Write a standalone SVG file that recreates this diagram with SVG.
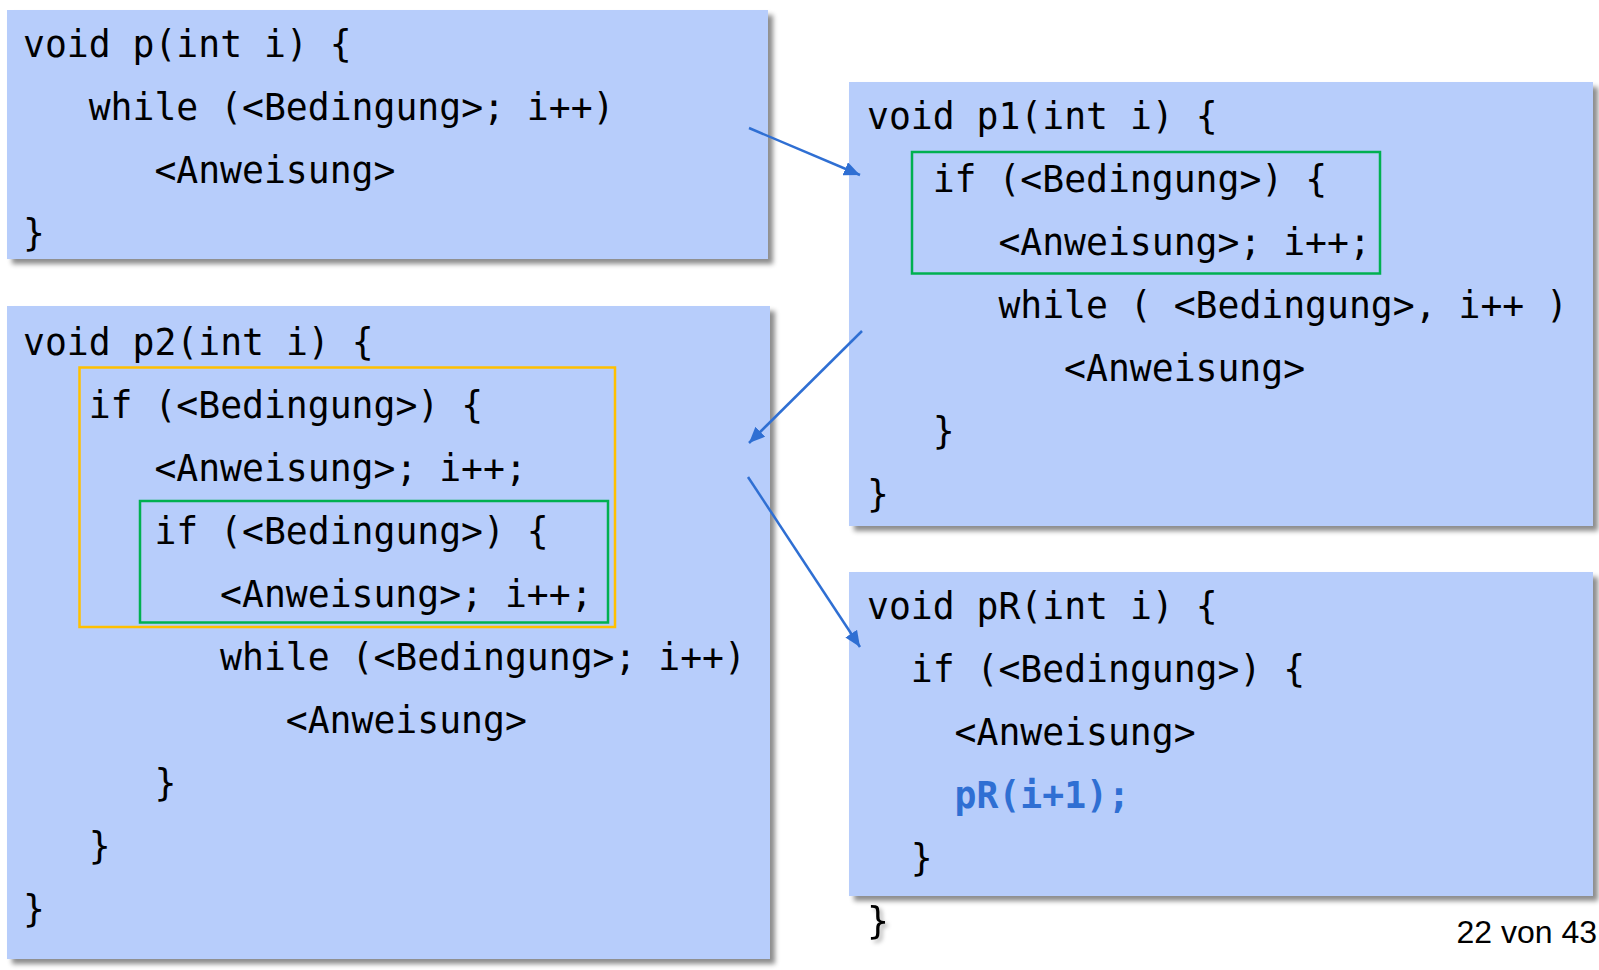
<svg xmlns="http://www.w3.org/2000/svg" width="1599" height="970" viewBox="0 0 1599 970">
  <style>
    .box { fill: #B7CDFB; filter: url(#shadow); }
    .code { font-family: "DejaVu Sans Mono", "Liberation Mono", monospace; font-size: 36.4px; fill: #000; }
    .call { font-weight: bold; fill: #2F6FD3; }
    .green { fill: none; stroke: #00B050; stroke-width: 2.5; }
    .orange { fill: none; stroke: #FFC000; stroke-width: 2.5; }
    .arrow { stroke: #2F6FD3; stroke-width: 2.5; fill: none; marker-end: url(#head); }
    .pageno { font-family: "Liberation Sans", Arial, sans-serif; font-size: 32px; fill: #000; }
  </style>
  <defs>
    <filter id="shadow" x="-5%" y="-5%" width="115%" height="115%">
      <feDropShadow dx="5" dy="5" stdDeviation="2.5" flood-color="#000" flood-opacity="0.45"/>
    </filter>
    <filter id="tshadow" x="-50%" y="-50%" width="200%" height="200%">
      <feDropShadow dx="3" dy="3" stdDeviation="2" flood-color="#000" flood-opacity="0.3"/>
    </filter>
    <marker id="head" markerUnits="userSpaceOnUse" markerWidth="18" markerHeight="14" refX="16" refY="7" orient="auto">
      <path d="M0,0 L16,7 L0,14 Z" fill="#2F6FD3"/>
    </marker>
  </defs>
  <rect width="1599" height="970" fill="#FFFFFF"/>

  <g id="node-p">
    <rect class="box" x="7" y="10" width="761" height="249"/>
    <text class="code" x="23" y="57">void p(int i) {</text>
    <text class="code" x="88.7" y="120">while (&lt;Bedingung&gt;; i++)</text>
    <text class="code" x="154.4" y="183">&lt;Anweisung&gt;</text>
    <text class="code" x="23" y="246">}</text>
  </g>

  <g id="node-p2">
    <rect class="box" x="7" y="306" width="763" height="653"/>
    <rect class="orange" x="79.5" y="367.5" width="535.5" height="259.5"/>
    <rect class="green" x="140" y="501" width="468" height="121.5"/>
    <text class="code" x="23" y="355">void p2(int i) {</text>
    <text class="code" x="88.7" y="418">if (&lt;Bedingung&gt;) {</text>
    <text class="code" x="154.4" y="481">&lt;Anweisung&gt;; i++;</text>
    <text class="code" x="154.4" y="544">if (&lt;Bedingung&gt;) {</text>
    <text class="code" x="220.1" y="607">&lt;Anweisung&gt;; i++;</text>
    <text class="code" x="220.1" y="670">while (&lt;Bedingung&gt;; i++)</text>
    <text class="code" x="285.8" y="733">&lt;Anweisung&gt;</text>
    <text class="code" x="154.4" y="796">}</text>
    <text class="code" x="88.7" y="859">}</text>
    <text class="code" x="23" y="922">}</text>
  </g>

  <g id="node-p1">
    <rect class="box" x="849" y="82" width="744" height="444"/>
    <rect class="green" x="912" y="152" width="468" height="121.5"/>
    <text class="code" x="867" y="129">void p1(int i) {</text>
    <text class="code" x="932.7" y="192">if (&lt;Bedingung&gt;) {</text>
    <text class="code" x="998.4" y="255">&lt;Anweisung&gt;; i++;</text>
    <text class="code" x="998.4" y="318">while ( &lt;Bedingung&gt;, i++ )</text>
    <text class="code" x="1064.1" y="381">&lt;Anweisung&gt;</text>
    <text class="code" x="932.7" y="444">}</text>
    <text class="code" x="867" y="507">}</text>
  </g>

  <g id="node-pR">
    <rect class="box" x="849" y="572" width="744" height="324"/>
    <text class="code" x="867" y="619">void pR(int i) {</text>
    <text class="code" x="910.8" y="682">if (&lt;Bedingung&gt;) {</text>
    <text class="code" x="954.6" y="745">&lt;Anweisung&gt;</text>
    <text class="code call" x="954.6" y="808">pR(i+1);</text>
    <text class="code" x="910.8" y="871">}</text>
    <text class="code" x="867" y="934" filter="url(#tshadow)">}</text>
  </g>

  <g id="connectors">
    <line class="arrow" x1="749" y1="128" x2="860" y2="175"/>
    <line class="arrow" x1="862" y1="331" x2="749" y2="443"/>
    <line class="arrow" x1="748" y1="477" x2="860" y2="647"/>
  </g>

  <g id="page-number">
    <text class="pageno" x="1597" y="943" text-anchor="end">22 von 43</text>
  </g>
</svg>
